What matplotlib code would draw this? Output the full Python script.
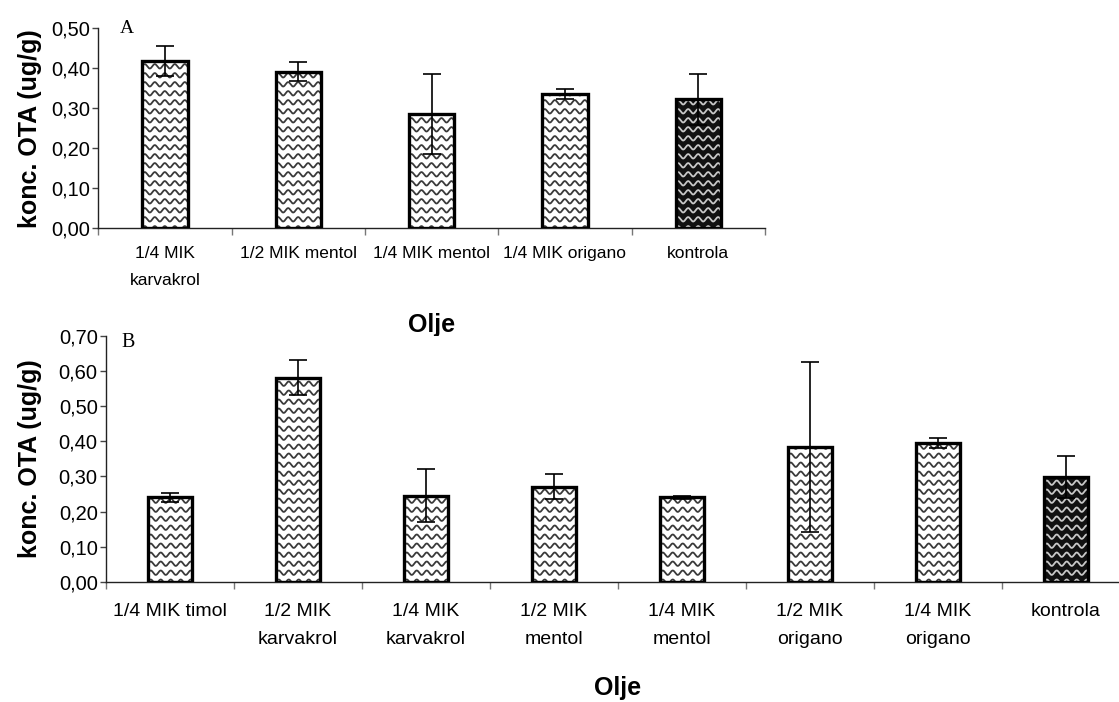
import numpy as np
import matplotlib
matplotlib.use('Agg')
import matplotlib.pyplot as plt
from matplotlib.ticker import FixedLocator, FuncFormatter

plt.rcParams['font.family'] = ['Liberation Sans', 'DejaVu Sans']

#------------------------------------------------------------------------------
# Data
#------------------------------------------------------------------------------
cat_a = ['1/4 MIK\nkarvakrol', '1/2 MIK mentol', '1/4 MIK mentol',
         '1/4 MIK origano', 'kontrola']
val_a = [0.418, 0.391, 0.285, 0.335, 0.322]
err_a = [0.037, 0.023, 0.100, 0.013, 0.063]

cat_b = ['1/4 MIK timol', '1/2 MIK\nkarvakrol', '1/4 MIK\nkarvakrol',
         '1/2 MIK\nmentol', '1/4 MIK\nmentol', '1/2 MIK\norigano',
         '1/4 MIK\norigano', 'kontrola']
val_b = [0.240, 0.581, 0.245, 0.271, 0.240, 0.385, 0.396, 0.299]
err_b = [0.013, 0.050, 0.076, 0.036, 0.003, 0.242, 0.014, 0.060]

W, H = 1119, 702
fig = plt.figure(figsize=(W / 100, H / 100), dpi=100)

def fmt_comma(v, pos):
    return ('%.2f' % v).replace('.', ',')

def wave_fill(ax, bars, ymax, period_px=10.0, step_px=9.0, amp_px=2.2):
    # wavy hatch drawn as clipped lines inside each bar
    bb = ax.get_position()
    xr = ax.get_xlim()
    px_x = bb.width * W / (xr[1] - xr[0])
    px_y = bb.height * H / ymax
    for k, b in enumerate(bars):
        dark = (k == len(bars) - 1)
        x0, w, h = b.get_x(), b.get_width(), b.get_height()
        xs = np.linspace(x0, x0 + w, 300)
        xx, yy = [], []
        y0 = 0.0
        while y0 < h + step_px / px_y:
            xx.extend(list(xs) + [np.nan])
            yy.extend(list(y0 + amp_px / px_y *
                           np.sin(2 * np.pi * (xs - x0) * px_x / period_px)) + [np.nan])
            y0 += step_px / px_y
        ln, = ax.plot(xx, yy, color='#c8c8c8' if dark else '#3a3a3a',
                      lw=1.3, zorder=2.5)
        ln.set_clip_path(b)

def panel(ax, cats, vals, errs, ymax, xl_y, lab_x, xfs, pad, lsp):
    n = len(cats)
    x = np.arange(n) + 0.5
    ax.set_xlim(0, n)
    ax.set_ylim(0, ymax)
    fcs = ['white'] * (n - 1) + ['#111111']
    bars = ax.bar(x, vals, width=0.34, color=fcs, edgecolor='none', zorder=2)
    wave_fill(ax, bars, ymax)
    ax.bar(x, vals, width=0.34, fill=False, edgecolor='k', lw=2.4, zorder=3)
    ax.errorbar(x, vals, yerr=errs, fmt='none', ecolor='k', elinewidth=1.2,
                capsize=6.5, capthick=1.2, zorder=4)

    for s in ['top', 'right']:
        ax.spines[s].set_visible(False)
    for s in ['left', 'bottom']:
        ax.spines[s].set_linewidth(1.0)
        ax.spines[s].set_color('#222222')

    ax.set_yticks(np.arange(0, ymax + 0.001, 0.1))
    ax.yaxis.set_major_formatter(FuncFormatter(fmt_comma))
    ax.tick_params(axis='y', labelsize=14.5, length=4, width=1.0,
                   color='#444444', pad=2)
    ax.set_xticks(x)
    ax.set_xticklabels(cats, fontsize=xfs, linespacing=lsp)
    ax.tick_params(axis='x', which='major', length=0, pad=pad)
    ax.xaxis.set_minor_locator(FixedLocator(np.arange(0, n + 1)))
    ax.tick_params(axis='x', which='minor', length=5, width=1.0,
                   color='#777777')

    ax.set_ylabel('konc. OTA (ug/g)', fontsize=18, fontweight='bold',
                  va='center')
    ax.yaxis.set_label_coords(lab_x, 0.5)
    ax.text(0.5, xl_y, 'Olje', transform=ax.transAxes, ha='center',
            va='baseline', fontsize=18, fontweight='bold')
    return ax

# Panel A
ax1 = fig.add_axes([98.3 / W, 1 - 228.3 / H, 666.7 / W, 200.3 / H])
panel(ax1, cat_a, val_a, err_a, 0.5, -0.516, -0.1025, 12.5, 13, 1.95)
ax1.text(0.043, 0.975, 'A', transform=ax1.transAxes, ha='center',
         va='baseline', fontsize=14, family='Liberation Serif')

# Panel B
ax2 = fig.add_axes([106 / W, 1 - 581.7 / H, 1024 / W, 245.7 / H])
panel(ax2, cat_b, val_b, err_b, 0.7, -0.461, -0.074, 14, 15, 1.9)
ax2.text(0.022, 0.955, 'B', transform=ax2.transAxes, ha='center',
         va='baseline', fontsize=14.5, family='Liberation Serif')

plt.savefig('out.png', dpi=100)
